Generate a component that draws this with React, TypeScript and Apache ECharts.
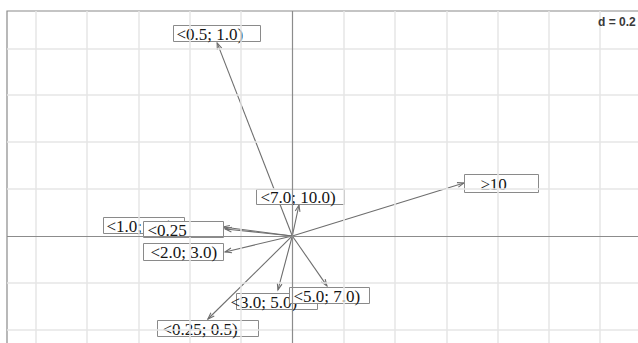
import React, { useEffect, useRef } from "react";
import * as echarts from "echarts";

// Category labels of the arrows (ade4-style s.arrow plot, d = 0.2)
const categories = [
  "<0.5; 1.0)",
  "<7.0; 10.0)",
  "≥10",
  "<1.0; 2.0)",
  "<0.25",
  "<2.0; 3.0)",
  "<3.0; 5.0)",
  "<5.0; 7.0)",
  "<0.25; 0.5)",
];
// Arrow tip coordinates
const arrowX = [-0.293, 0.026, 0.669, -0.27, -0.262, -0.262, -0.056, 0.135, -0.329];
const arrowY = [0.823, 0.132, 0.226, 0.038, 0.03, -0.068, -0.23, -0.213, -0.354];
// Label (box centre) coordinates
const labelX = [-0.295, 0.03, 0.813, -0.58, -0.426, -0.426, -0.062, 0.143, -0.33];
const labelY = [0.865, 0.17, 0.226, 0.047, 0.03, -0.066, -0.277, -0.251, -0.392];
// Grid values (d = 0.2)
const gridX = [-1.0, -0.8, -0.6, -0.4, -0.2, 0.2, 0.4, 0.6, 0.8, 1.0, 1.2, 1.4];
const gridY = [-0.6, -0.4, -0.2, 0.2, 0.4, 0.6, 0.8];
const scaleText = "d = 0.2";

// styling of label boxes (pixels)
const BOX_W = [87, 88, 74, 81, 80, 80, 81, 80, 101];
const BOX_H = [16, 15, 18, 16, 16, 17, 16, 16, 16];
const TEXT_PAD = [3, 4, 16, 3, 4, 7, -6, 4, 5];

export default function App() {
  const ref = useRef<HTMLDivElement>(null);
  useEffect(() => {
    document.body.style.overflow = "hidden";
    const chart = echarts.init(ref.current!, null, { renderer: "svg" });
    const gridColor = "#e6e6e6";
    const option: any = {
      animation: false,
      backgroundColor: "#ffffff",
      grid: {
        left: 7,
        top: 11,
        right: 0,
        bottom: 0,
        show: true,
        borderColor: "#8a8a8a",
        borderWidth: 1.2,
        backgroundColor: "transparent",
      },
      xAxis: {
        type: "value",
        min: -1.112,
        max: 1.511,
        show: false,
        splitLine: { show: false },
      },
      yAxis: {
        type: "value",
        min: -0.614,
        max: 0.959,
        show: false,
        splitLine: { show: false },
      },
      graphic: [
        {
          type: "text",
          left: 598,
          top: 16,
          z: 100,
          style: {
            text: scaleText,
            font: "bold 12px 'Liberation Sans', Arial, sans-serif",
            fill: "#3a3a3a",
          },
        },
      ],
      series: [
        {
          type: "line",
          data: [],
          silent: true,
          markLine: {
            silent: true,
            symbol: ["none", "none"],
            label: { show: false },
            lineStyle: { color: gridColor, width: 1.5, type: "solid" },
            data: [
              ...gridX.map((v) => ({ xAxis: v })),
              ...gridY.map((v) => ({ yAxis: v })),
            ],
          },
        },
        {
          type: "line",
          data: [],
          silent: true,
          markLine: {
            silent: true,
            symbol: ["none", "none"],
            label: { show: false },
            lineStyle: { color: "#8c8c8c", width: 1.2, type: "solid" },
            data: [{ xAxis: 0 }, { yAxis: 0 }],
          },
        },
        {
          type: "custom",
          silent: true,
          data: arrowX.map((x, i) => [x, arrowY[i]]),
          renderItem: (params: any, api: any) => {
            const o = api.coord([0, 0]);
            const t = api.coord([api.value(0), api.value(1)]);
            const ang = Math.atan2(t[1] - o[1], t[0] - o[0]);
            const L = 7;
            const a = (20 * Math.PI) / 180;
            const p1 = [t[0] - L * Math.cos(ang - a), t[1] - L * Math.sin(ang - a)];
            const p2 = [t[0] - L * Math.cos(ang + a), t[1] - L * Math.sin(ang + a)];
            const stroke = { stroke: "#6e6e6e", lineWidth: 1.1, fill: "none" };
            return {
              type: "group",
              children: [
                { type: "line", shape: { x1: o[0], y1: o[1], x2: t[0], y2: t[1] }, style: stroke },
                { type: "polyline", shape: { points: [p1, t, p2] }, style: stroke },
              ],
            };
          },
        },
        {
          type: "custom",
          silent: true,
          data: labelX.map((x, i) => [x, labelY[i], i]),
          renderItem: (params: any, api: any) => {
            const i = api.value(2);
            const c = api.coord([api.value(0), api.value(1)]);
            const w = BOX_W[i];
            const h = BOX_H[i];
            const x0 = Math.round(c[0] - w / 2) + 0.5;
            const y0 = Math.round(c[1] - h / 2) + 0.5;
            return {
              type: "group",
              children: [
                {
                  type: "rect",
                  shape: { x: x0, y: y0, width: w, height: h },
                  style: { fill: "#ffffff", stroke: "#8a8a8a", lineWidth: 1 },
                },
                {
                  type: "text",
                  x: x0 + TEXT_PAD[i],
                  y: y0 + h / 2 + 0.5,
                  style: {
                    text: categories[i],
                    font: "17px 'Liberation Serif', 'Times New Roman', serif",
                    fill: "#151515",
                    align: "left",
                    verticalAlign: "middle",
                  },
                },
              ],
            };
          },
        },
      ],
    };
    chart.setOption(option);
    return () => chart.dispose();
  }, []);
  return (
    <div
      ref={ref}
      style={{ position: "fixed", left: 0, top: 0, width: 680, height: 380 }}
    />
  );
}
